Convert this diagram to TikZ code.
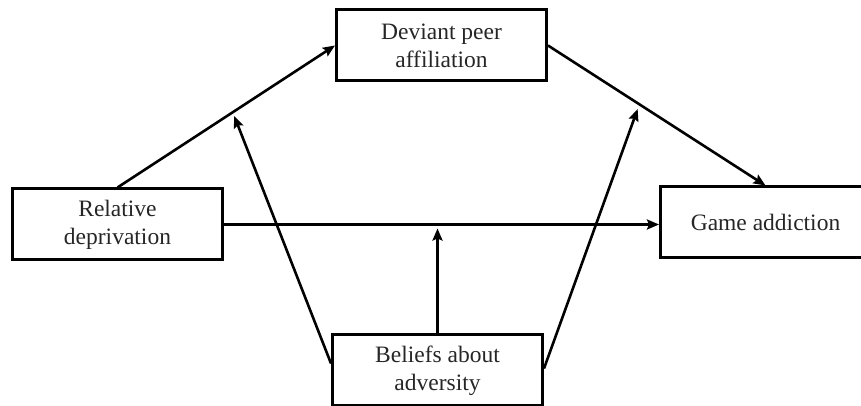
\documentclass[tikz,border=0pt]{standalone}
\usepackage{fontspec}
\setmainfont{Liberation Serif}
\usetikzlibrary{calc,arrows.meta}

\tikzset{
  varbox/.style={draw, line width=3pt, minimum width=210pt, minimum height=71pt,
    inner sep=0pt, align=center, text=black!85, font=\fontsize{23.5}{28}\selectfont},
  path arrow/.style={line width=2.6pt, -{Stealth[length=12pt,width=10pt,inset=2pt]}},
}

\begin{document}
\begin{tikzpicture}[x=1pt,y=1pt]
  \clip (0,0) rectangle (861,406);

  \coordinate (posRD) at (117.5, 181.5);
  \coordinate (posDPA) at (441.5, 360.5);
  \coordinate (posGA) at (765.5, 183.5);
  \coordinate (posBA) at (437.5, 35.5);

  \node[varbox] (RD) at (posRD) {Relative\\deprivation};
  \node[varbox] (DPA) at (posDPA) {Deviant peer\\affiliation};
  \node[varbox] (GA) at (posGA) {Game addiction};
  \node[varbox] (BA) at (posBA) {Beliefs about\\adversity};

  % main paths
  \draw[path arrow] (RD.north) -- (DPA.west);
  \draw[path arrow] (DPA.east) -- (GA.north);
  \draw[path arrow] (RD.east) -- (RD.east -| GA.west);

  % moderation
  \coordinate (modA) at ($(RD.north)!0.53!(DPA.west)$);
  \coordinate (modB) at ($(DPA.east)!0.42!(GA.north)$);
  \coordinate (modC) at (BA.north |- RD.east);

  \draw[path arrow, shorten >=4pt] ([yshift=7pt]BA.west) -- (modA);
  \draw[path arrow, shorten >=5pt] ([yshift=2pt]BA.east) -- (modB);
  \draw[path arrow, shorten >=4pt] (BA.north) -- (modC);
\end{tikzpicture}
\end{document}
